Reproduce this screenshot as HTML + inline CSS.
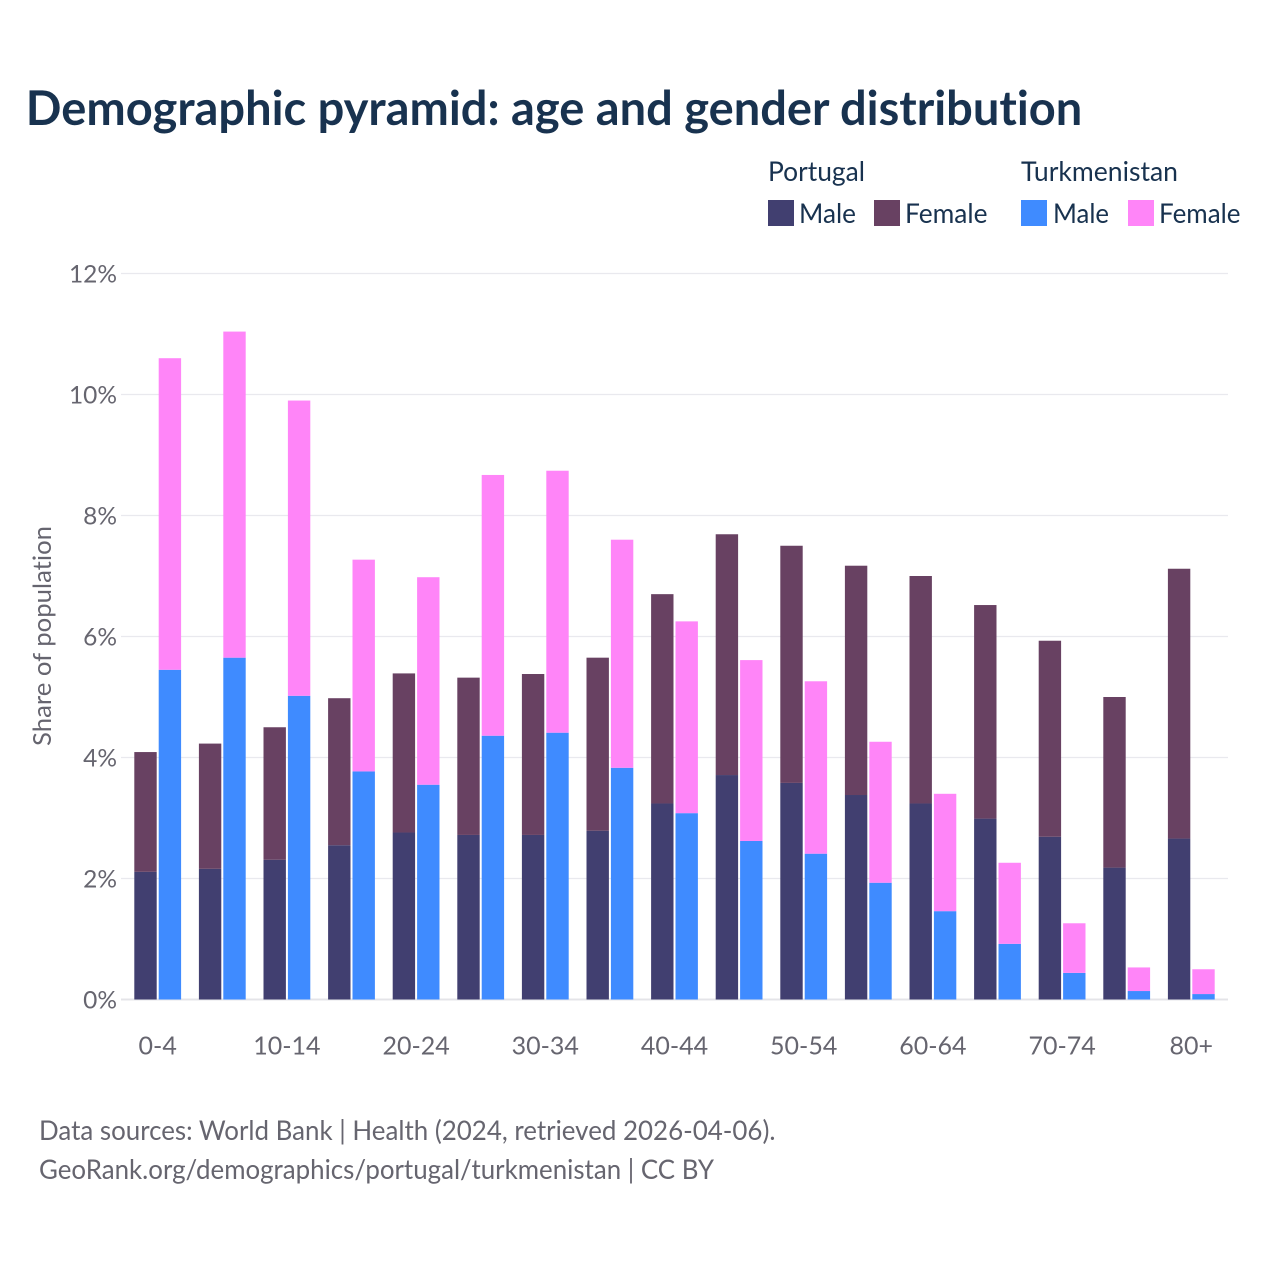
<!DOCTYPE html>
<html lang="en">
<head>
<meta charset="utf-8">
<title>Demographic pyramid: age and gender distribution</title>
<style>
html,body{margin:0;padding:0;background:#fff;width:1280px;height:1280px;overflow:hidden}
svg{display:block}
text{font-family:"Lato","Carlito","Liberation Sans",sans-serif;font-variant-ligatures:none}
</style>
</head>
<body>
<svg id="chart" xmlns="http://www.w3.org/2000/svg" width="1280" height="1280" viewBox="0 0 1280 1280">
  <rect width="1280" height="1280" fill="#ffffff"/>
  <text x="25.8" y="125" font-size="48" font-weight="700" fill="#18324f" textLength="1056.5" lengthAdjust="spacingAndGlyphs">Demographic pyramid: age and gender distribution</text>

  <g font-size="27" fill="#18324f">
    <text x="768" y="181" textLength="97" lengthAdjust="spacingAndGlyphs">Portugal</text>
    <text x="1021" y="181" textLength="157" lengthAdjust="spacingAndGlyphs">Turkmenistan</text>
    <rect x="768" y="200" width="26" height="26" fill="#413f70"/>
    <text x="799" y="223" textLength="57" lengthAdjust="spacingAndGlyphs">Male</text>
    <rect x="874" y="200" width="26" height="26" fill="#684162"/>
    <text x="905" y="223" textLength="82.5" lengthAdjust="spacingAndGlyphs">Female</text>
    <rect x="1021" y="200" width="26" height="26" fill="#3f8bff"/>
    <text x="1053" y="223" textLength="56" lengthAdjust="spacingAndGlyphs">Male</text>
    <rect x="1128" y="200" width="26" height="26" fill="#ff85f8"/>
    <text x="1159" y="223" textLength="81.5" lengthAdjust="spacingAndGlyphs">Female</text>
  </g>

  <g id="grid"></g>
  <g id="yticks"></g>
  <g id="bars"></g>
  <g id="xticks"></g>

  <text transform="translate(51,636) rotate(-90)" text-anchor="middle" font-size="25" fill="#66656f" textLength="220" lengthAdjust="spacingAndGlyphs">Share of population</text>

  <g font-size="27" fill="#66656f">
    <text x="39" y="1140" textLength="736.5" lengthAdjust="spacingAndGlyphs">Data sources: World Bank | Health (2024, retrieved 2026-04-06).</text>
    <text x="39" y="1179" textLength="675" lengthAdjust="spacingAndGlyphs">GeoRank.org/demographics/portugal/turkmenistan | CC BY</text>
  </g>
</svg>
<script>
var categories = ['0-4','5-9','10-14','15-19','20-24','25-29','30-34','35-39','40-44','45-49','50-54','55-59','60-64','65-69','70-74','75-79','80+'];
var shownCategories = ['0-4','10-14','20-24','30-34','40-44','50-54','60-64','70-74','80+'];
var portugalMale = [2.11,2.16,2.31,2.55,2.76,2.72,2.72,2.79,3.24,3.71,3.58,3.38,3.24,2.99,2.69,2.18,2.66];
var portugalFemale = [1.98,2.07,2.19,2.43,2.63,2.60,2.66,2.86,3.46,3.98,3.92,3.79,3.76,3.53,3.24,2.82,4.46];
var turkmenistanMale = [5.45,5.65,5.02,3.77,3.55,4.36,4.41,3.83,3.08,2.62,2.41,1.93,1.46,0.92,0.44,0.14,0.09];
var turkmenistanFemale = [5.15,5.39,4.88,3.50,3.43,4.31,4.33,3.77,3.17,2.99,2.85,2.33,1.94,1.34,0.82,0.39,0.41];
var yTicks = [0,2,4,6,8,10,12];

var NS = 'http://www.w3.org/2000/svg';
function yScale(v) { return 999.5 - v * 60.5; }
function xCenter(i) { return 157.7 + i * 64.6; }

var gridG = document.getElementById('grid');
var yTickG = document.getElementById('yticks');
var barG = document.getElementById('bars');
var xTickG = document.getElementById('xticks');

yTicks.forEach(function (t) {
  var line = document.createElementNS(NS, 'line');
  
  
  line.setAttribute('x1', 121);
  line.setAttribute('x2', 1228);
  line.setAttribute('y1', yScale(t));
  line.setAttribute('y2', yScale(t));
  line.setAttribute('stroke', t === 0 ? '#e4e4e8' : '#e9e9ee');
  line.setAttribute('stroke-width', t === 0 ? 2 : 1.3);
  gridG.appendChild(line);

  var label = document.createElementNS(NS, 'text');
  
  
  label.setAttribute('x', 117);
  label.setAttribute('y', yScale(t) + 9);
  label.setAttribute('text-anchor', 'end');
  label.setAttribute('font-size', 24.5);
  label.setAttribute('fill', '#66656f');
  label.textContent = t + '%';
  yTickG.appendChild(label);
});

function addBar(name, x, base, value, fill) {
  var r = document.createElementNS(NS, 'rect');
  
  
  r.setAttribute('x', x);
  r.setAttribute('y', yScale(base + value));
  r.setAttribute('width', 22.4);
  r.setAttribute('height', yScale(base) - yScale(base + value));
  r.setAttribute('fill', fill);
  barG.appendChild(r);
}

categories.forEach(function (cat, i) {
  var left = xCenter(i) - 23.4;
  var right = xCenter(i) + 1;
  addBar('bar-portugal-male-' + cat, left, 0, portugalMale[i], '#413f70');
  addBar('bar-portugal-female-' + cat, left, portugalMale[i], portugalFemale[i], '#684162');
  addBar('bar-turkmenistan-male-' + cat, right, 0, turkmenistanMale[i], '#3f8bff');
  addBar('bar-turkmenistan-female-' + cat, right, turkmenistanMale[i], turkmenistanFemale[i], '#ff85f8');

  if (shownCategories.indexOf(cat) !== -1) {
    var t = document.createElementNS(NS, 'text');
    
    
    t.setAttribute('x', xCenter(i));
    t.setAttribute('y', 1054.5);
    t.setAttribute('text-anchor', 'middle');
    t.setAttribute('font-size', 25);
    t.setAttribute('fill', '#66656f');
    t.textContent = cat;
    xTickG.appendChild(t);
  }
});
</script>
</body>
</html>
